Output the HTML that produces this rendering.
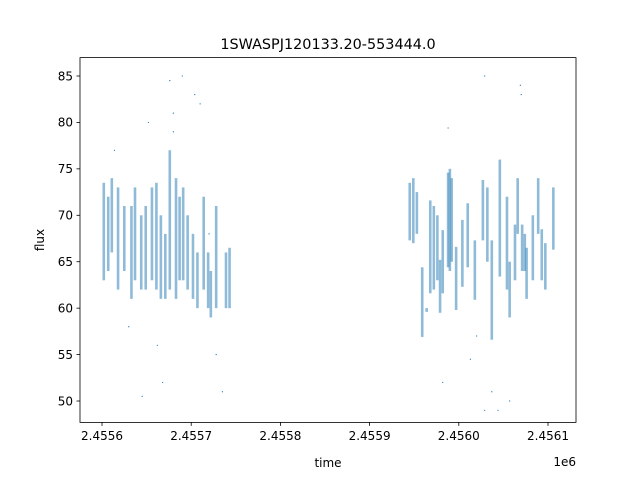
<!DOCTYPE html>
<html><head><meta charset="utf-8"><style>
body{margin:0;background:#fff;font-family:"Liberation Sans","DejaVu Sans",sans-serif}
svg text{font-family:"DejaVu Sans","Liberation Sans",sans-serif}
</style></head><body>
<svg id="chart" width="640" height="480" viewBox="0 0 640 480" xmlns="http://www.w3.org/2000/svg">
<rect width="640" height="480" fill="#fff"/>
<text x="328" y="49" font-size="14.4" text-anchor="middle">1SWASPJ120133.20-553444.0</text>
<g id="marks"></g>
<rect x="80" y="57.6" width="496" height="364.8" fill="none" stroke="#000" stroke-width="0.8"/>
<g id="xticks"></g>
<g id="yticks"></g>
<text x="328" y="467" font-size="12" text-anchor="middle">time</text>
<text x="576" y="466" font-size="12" text-anchor="end">1e6</text>
<text x="44" y="240" font-size="12" text-anchor="middle" transform="rotate(-90 44 240)">flux</text>
</svg>
<script>
// streak data: time offset (days from 2455600), low flux, high flux
const streakTimes=[2,7,11,18,25,33,37,44,49,56,61,66,71,76,83,87,91,96,102,107,114,119,122,128,139,143,
 345,349,353,359,364,368,372,376,379,382,388,390,392,397,404,410,418,427,432,437,446,454,457,463,466,471,474,476,483,489,493,497,506];
const streakLow=[63,64,66,62,64,61,63,62,62,63,62,61,61,62,61,63,63,62,61,60,62,60,59,60,60,60,
 67.3,67,68,56.9,59.6,61.6,62,63,59.5,61.6,64.4,64,65,59.8,62.3,64.4,60.9,67.3,65,56.6,63.4,62,59,63,68,64,64,61,63,68,63,62,66.3];
const streakHigh=[73.5,72,74,73,71,71,73,70,71,73,73.5,70,68,77,74,72,73,70,68,66,72,66,64,71,66,66.5,
 73.5,74,72.5,64.4,60,71.6,71,70,65.2,68.4,74.6,75,74,66.6,69.5,71.3,67.3,73.8,73,67.3,76,72,65,69,74,69,68,66.5,70,74,68.5,67,73];
const outT=[14,30,52,68,76,80,90,104,110,120,128,135,80,45,62,388,382,437,457,429,429,469,444,413,470,420];
const outF=[77,58,80,52,84.5,79,85,83,82,68,55,51,81,50.5,56,79.4,52,51,50,85,49,84,49,54.5,83,57];
const xTicks=[2455600,2455700,2455800,2455900,2456000,2456100];
const xTickLabels=["2.4556","2.4557","2.4558","2.4559","2.4560","2.4561"];
const yTicks=[50,55,60,65,70,75,80,85];
const T0=2455600;
const NS="http://www.w3.org/2000/svg";
function xs(t){return 102+(t-T0)*0.892;}
function ys(f){return 76+(85-f)*9.286;}
function mk(tag,attrs,parent){const e=document.createElementNS(NS,tag);for(const k in attrs)e.setAttribute(k,attrs[k]);parent.appendChild(e);return e;}
const g=document.getElementById('marks');
for(let i=0;i<streakTimes.length;i++){
  const x=xs(T0+streakTimes[i]),y1=ys(streakHigh[i]),y2=ys(streakLow[i]);
  const r=mk('rect',{x:x-1.3,y:y1,width:2.6,height:y2-y1,fill:'#1f77b4','fill-opacity':0.5},g);
  
  
}
for(let i=0;i<outT.length;i++){
  const c=mk('circle',{cx:xs(T0+outT[i]),cy:ys(outF[i]),r:0.6,fill:'#1f77b4'},g);
  
  
}
const gx=document.getElementById('xticks');
xTicks.forEach((t,i)=>{
  const x=xs(t);
  const l=mk('line',{x1:x,x2:x,y1:422.4,y2:425.9,stroke:'#000','stroke-width':0.8},gx);
  
  
  const tx=mk('text',{x:x,y:440,'font-size':12,'text-anchor':'middle'},gx);
  tx.textContent=xTickLabels[i];
  
  
});
const gy=document.getElementById('yticks');
yTicks.forEach(v=>{
  const y=ys(v);
  const l=mk('line',{x1:76.5,x2:80,y1:y,y2:y,stroke:'#000','stroke-width':0.8},gy);
  
  
  const tx=mk('text',{x:73,y:y+4.3,'font-size':12,'text-anchor':'end'},gy);
  tx.textContent=v;
  
  
});
</script>
</body></html>
